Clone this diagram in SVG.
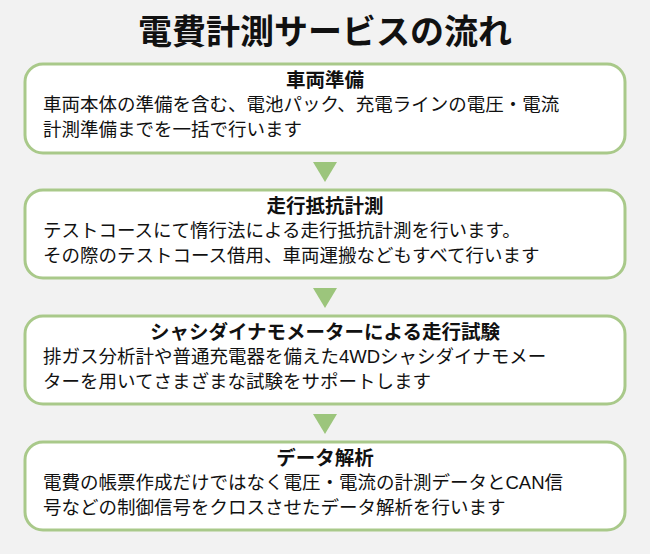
<svg xmlns="http://www.w3.org/2000/svg" width="650" height="554" viewBox="0 0 650 554">
<style>
.box{fill:#fff;stroke:#a9c98a;stroke-width:3}
.h{font-family:"Liberation Sans","Noto Sans CJK JP",sans-serif;font-weight:bold;font-size:19.5px;text-anchor:middle;fill:#111}
.b{font-family:"Liberation Sans","Noto Sans CJK JP",sans-serif;font-size:18.5px;fill:#111}
.arr{fill:#9cc57c}
</style>
<rect width="650" height="554" fill="#f2f2f2"/>
<text x="325" y="44" font-family="Liberation Sans,'Noto Sans CJK JP',sans-serif" font-weight="bold" font-size="34" text-anchor="middle" fill="#111">電費計測サービスの流れ</text>
<g id="n1"><rect class="box" x="25" y="64" width="600" height="89" rx="18"/>
<text class="h" x="325" y="87">車両準備</text>
<text class="b" x="43" y="111">車両本体の準備を含む、電池パック、充電ラインの電圧・電流</text>
<text class="b" x="43" y="136">計測準備までを一括で行います</text></g>
<g id="n2"><rect class="box" x="25" y="190" width="600" height="88" rx="18"/>
<text class="h" x="325" y="213">走行抵抗計測</text>
<text class="b" x="43" y="237">テストコースにて惰行法による走行抵抗計測を行います。</text>
<text class="b" x="43" y="262">その際のテストコース借用、車両運搬などもすべて行います</text></g>
<g id="n3"><rect class="box" x="25" y="316" width="600" height="88" rx="18"/>
<text class="h" x="325" y="339">シャシダイナモメーターによる走行試験</text>
<text class="b" x="43" y="363">排ガス分析計や普通充電器を備えた4WDシャシダイナモメー</text>
<text class="b" x="43" y="388">ターを用いてさまざまな試験をサポートします</text></g>
<g id="n4"><rect class="box" x="25" y="442" width="600" height="88" rx="18"/>
<text class="h" x="325" y="465">データ解析</text>
<text class="b" x="43" y="489">電費の帳票作成だけではなく電圧・電流の計測データとCAN信</text>
<text class="b" x="43" y="514">号などの制御信号をクロスさせたデータ解析を行います</text></g>
<g id="connectors">
<polygon class="arr" points="313,162 337,162 325,182"/>
<polygon class="arr" points="313,288 337,288 325,308"/>
<polygon class="arr" points="313,414 337,414 325,434"/>
</g>
</svg>
